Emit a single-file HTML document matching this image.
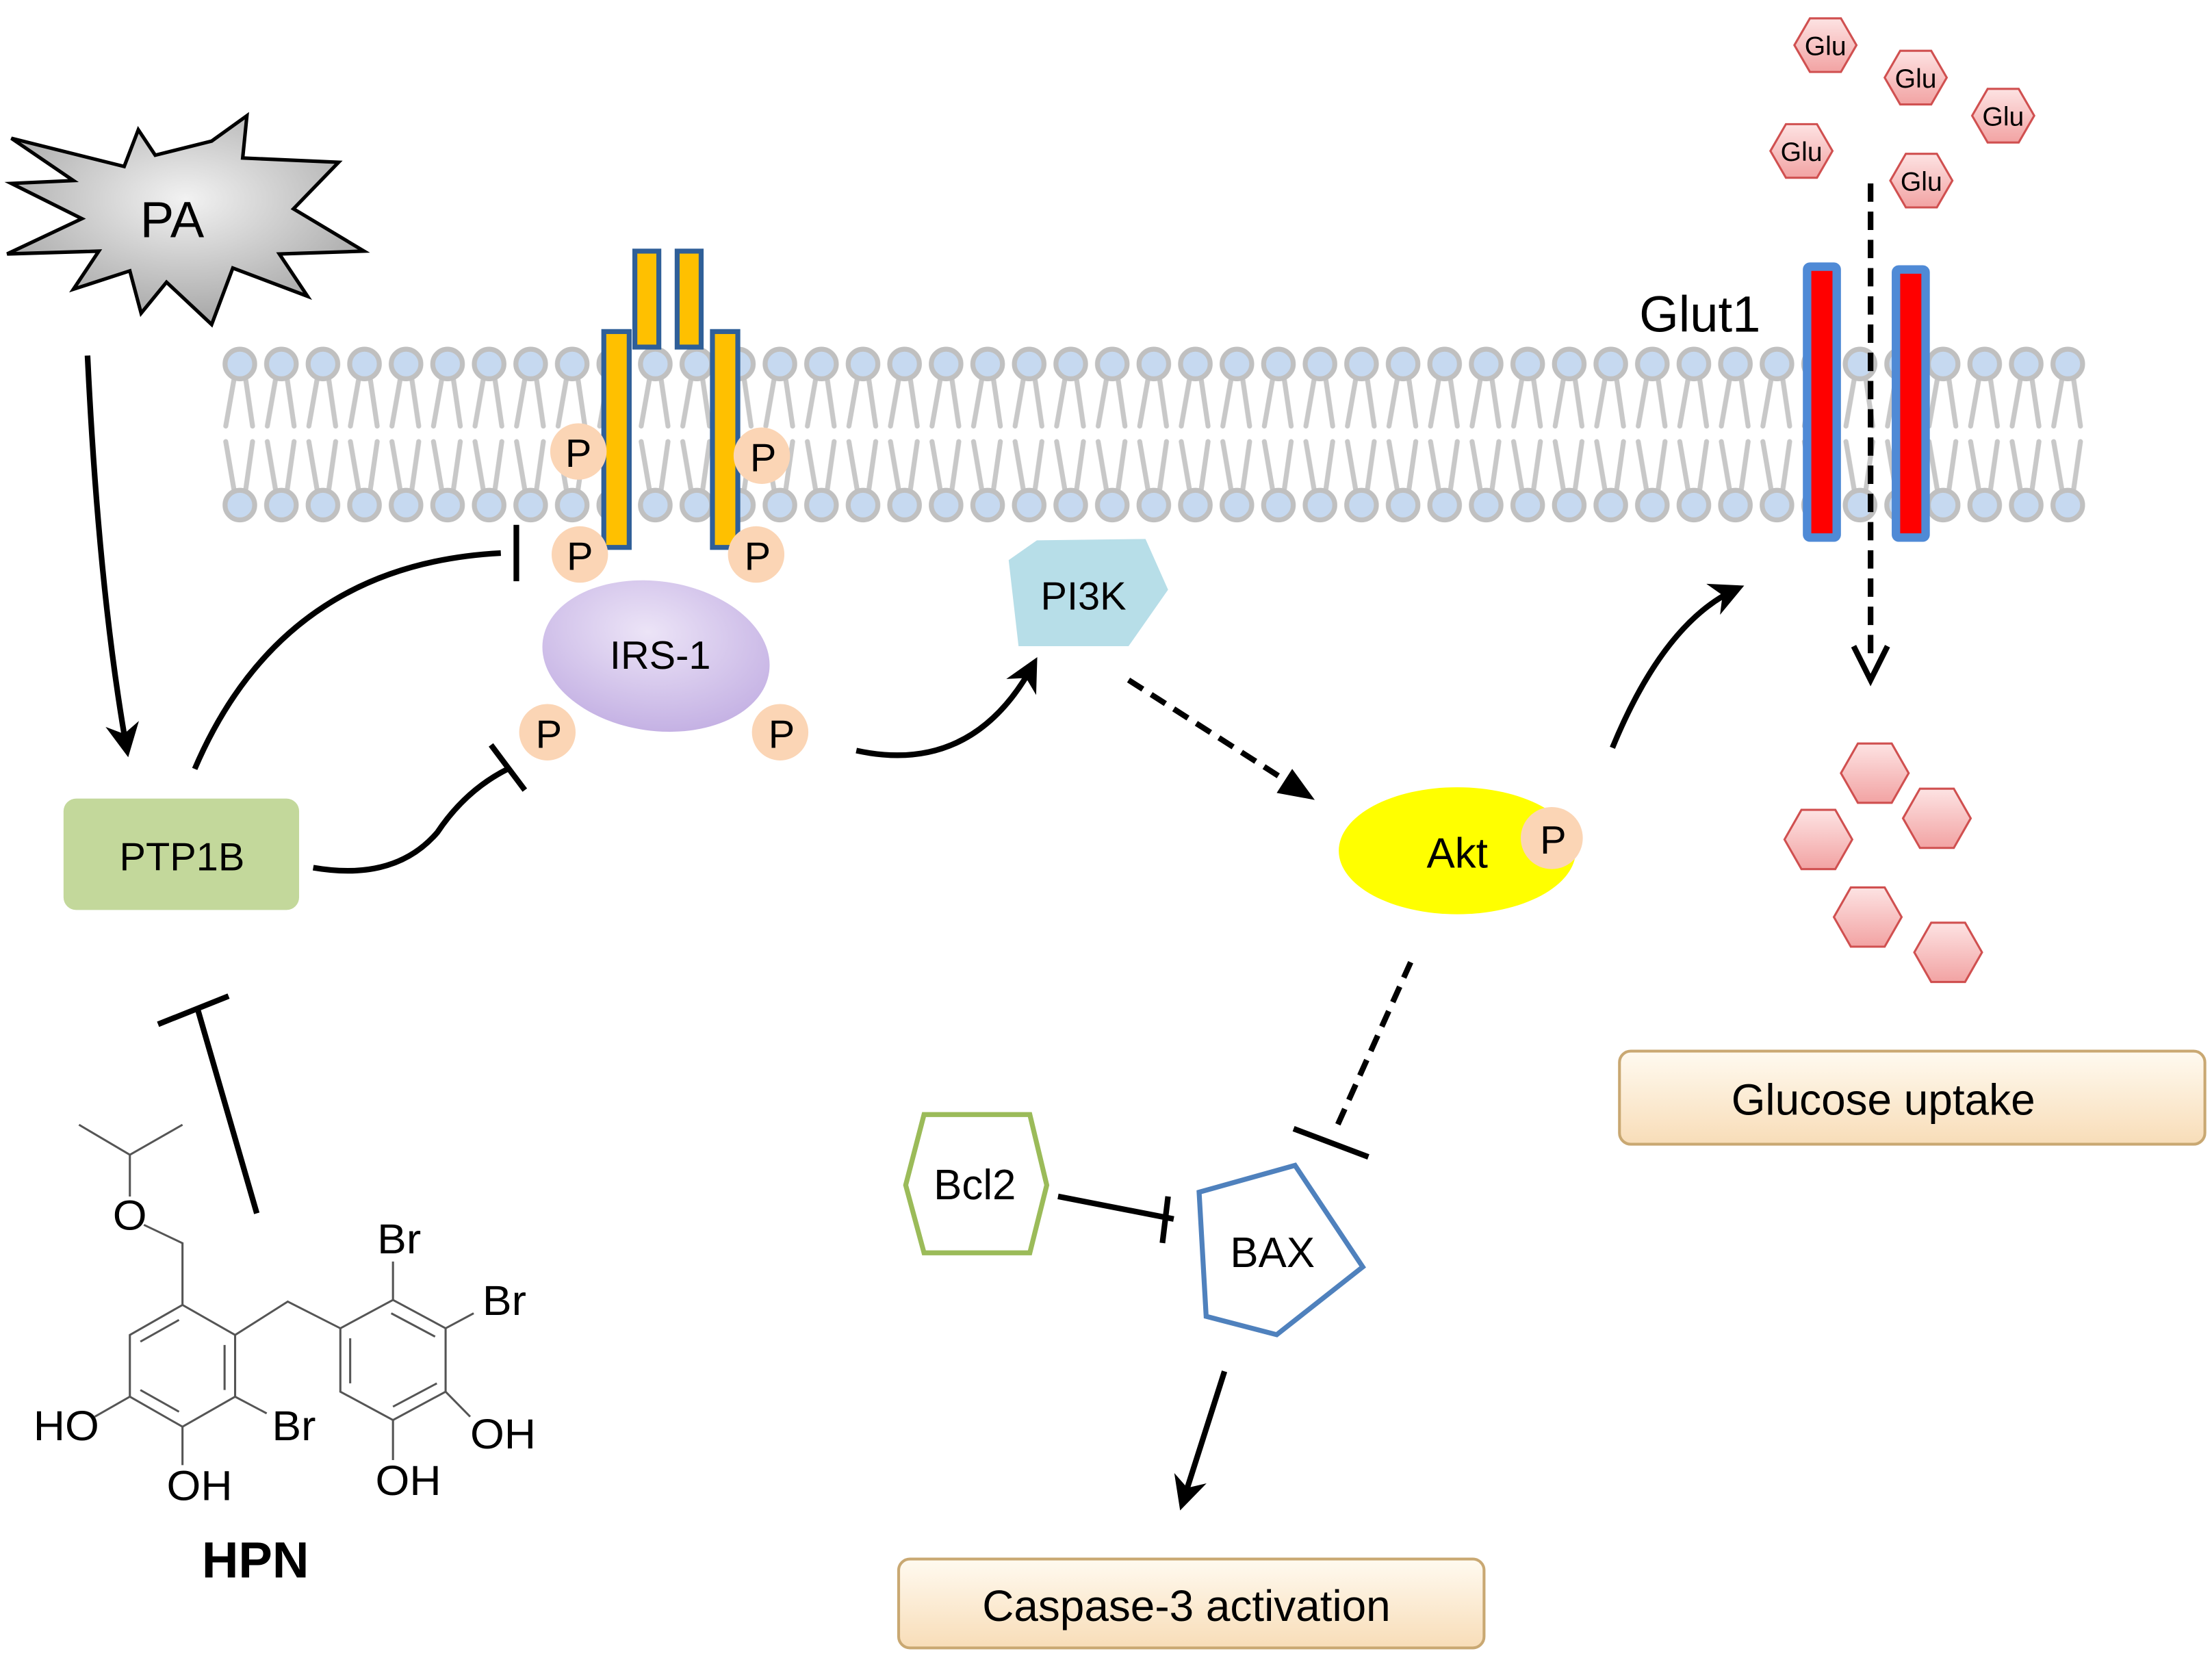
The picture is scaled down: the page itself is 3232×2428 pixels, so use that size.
<!DOCTYPE html>
<html><head><meta charset="utf-8"><style>
html,body{margin:0;padding:0;background:#fff}
svg{display:block}
text{font-family:"Liberation Sans","DejaVu Sans",sans-serif}
</style></head><body>
<svg width="3232" height="2428" viewBox="0 0 1568 1178" xmlns="http://www.w3.org/2000/svg">
<defs>
<radialGradient id="pa" cx="50%" cy="40%" r="60%"><stop offset="0" stop-color="#f2f2f2"/><stop offset="1" stop-color="#a6a6a6"/></radialGradient>
<radialGradient id="irs" cx="45%" cy="35%" r="65%"><stop offset="0" stop-color="#ece4f7"/><stop offset="1" stop-color="#c5b2e4"/></radialGradient>
<linearGradient id="glu" x1="0" y1="0" x2="0" y2="1"><stop offset="0" stop-color="#fde3e3"/><stop offset="1" stop-color="#f2a3a3"/></linearGradient>
<linearGradient id="box" x1="0" y1="0" x2="0" y2="1"><stop offset="0" stop-color="#fffaf0"/><stop offset="1" stop-color="#f8ddb8"/></linearGradient>
<marker id="ah" viewBox="0 0 10 10" refX="8" refY="5" markerWidth="6" markerHeight="6" orient="auto"><path d="M0,0 L10,5 L0,10 L3,5 z" fill="#000"/></marker>
<pattern id="lip" patternUnits="userSpaceOnUse" x="155.275" y="0" width="29.45" height="1178">
<path d="M10.725,268 L4.725,302 M18.725,268 L23.725,302 M10.725,348 L4.725,313 M18.725,348 L23.725,313" stroke="#c8c8c8" stroke-width="3.5" fill="none" stroke-linecap="round"/>
<circle cx="14.725" cy="258" r="10.5" fill="#c6d9f0" stroke="#c0c0c0" stroke-width="3.5"/>
<circle cx="14.725" cy="358" r="10.5" fill="#c6d9f0" stroke="#c0c0c0" stroke-width="3.5"/>
</pattern>
</defs>

<!-- membrane -->
<rect x="155.275" y="244" width="1325.25" height="130" fill="url(#lip)"/>

<!-- PA star -->
<polygon points="8,98 88,118 98,92 110,110 150,100 175,82 172,112 240,115 208,148 258,178 198,180 218,210 165,190 150,230 118,200 100,222 92,192 52,205 70,178 5,180 58,155 8,130 52,128" fill="url(#pa)" stroke="#000" stroke-width="2.5" stroke-linejoin="miter"/>
<text x="122" y="168" font-size="36" text-anchor="middle">PA</text>

<!-- receptor -->
<g fill="#ffc000" stroke="#2f5f98" stroke-width="3.5">
<rect x="450" y="178" width="17" height="68"/>
<rect x="480" y="178" width="17" height="68"/>
<rect x="428" y="235" width="18" height="153"/>
<rect x="505" y="235" width="18" height="153"/>
</g>
<g fill="#fbd5b5"><circle cx="410" cy="320" r="20"/><circle cx="540" cy="323" r="20"/><circle cx="411" cy="393" r="20"/><circle cx="536" cy="393" r="20"/><circle cx="388" cy="519" r="20"/><circle cx="553" cy="519" r="20"/></g>
<g font-size="28" text-anchor="middle"><text x="410" y="331">P</text><text x="541" y="334">P</text><text x="411" y="404">P</text><text x="537" y="404">P</text><text x="389" y="530">P</text><text x="554" y="530">P</text></g>

<ellipse cx="465" cy="465" rx="81" ry="53" transform="rotate(8 465 465)" fill="url(#irs)"/>
<text x="468" y="474" font-size="28" text-anchor="middle">IRS-1</text>

<!-- Glut1 -->
<g fill="#ff0000" stroke="#4f8ad6" stroke-width="6"><rect x="1281" y="189" width="21" height="192" rx="2"/><rect x="1344" y="191" width="21" height="190" rx="2"/></g>
<text x="1162" y="235" font-size="36">Glut1</text>
<line x1="1326" y1="130" x2="1326" y2="470" stroke="#000" stroke-width="4" stroke-dasharray="13,7"/>
<path d="M1314,458 L1326,482 L1338,458" fill="none" stroke="#000" stroke-width="4"/>

<!-- Glu small -->
<g fill="url(#glu)" stroke="#d05050" stroke-width="1.5">
<polygon points="1272,32 1283,13 1305,13 1316,32 1305,51 1283,51"/>
<polygon points="1336,55 1347,36 1369,36 1380,55 1369,74 1347,74"/>
<polygon points="1398,82 1409,63 1431,63 1442,82 1431,101 1409,101"/>
<polygon points="1255,107 1266,88 1288,88 1299,107 1288,126 1266,126"/>
<polygon points="1340,128 1351,109 1373,109 1384,128 1373,147 1351,147"/>
</g>
<g font-size="19" text-anchor="middle"><text x="1294" y="39">Glu</text><text x="1358" y="62">Glu</text><text x="1420" y="89">Glu</text><text x="1277" y="114">Glu</text><text x="1362" y="135">Glu</text></g>
<!-- Glu large -->
<g fill="url(#glu)" stroke="#d05050" stroke-width="1.5">
<polygon points="1305,548 1317,527 1341,527 1353,548 1341,569 1317,569"/>
<polygon points="1265,595 1277,574 1301,574 1313,595 1301,616 1277,616"/>
<polygon points="1349,580 1361,559 1385,559 1397,580 1385,601 1361,601"/>
<polygon points="1300,650 1312,629 1336,629 1348,650 1336,671 1312,671"/>
<polygon points="1357,675 1369,654 1393,654 1405,675 1393,696 1369,696"/>
</g>

<!-- boxes -->
<rect x="1148" y="745" width="415" height="66" rx="8" fill="url(#box)" stroke="#c9a872" stroke-width="2"/>
<text x="1335" y="790" font-size="31" text-anchor="middle">Glucose uptake</text>
<rect x="637" y="1105" width="415" height="63" rx="8" fill="url(#box)" stroke="#c9a872" stroke-width="2"/>
<text x="841" y="1149" font-size="31" text-anchor="middle">Caspase-3 activation</text>

<!-- PTP1B -->
<rect x="45" y="566" width="167" height="79" rx="9" fill="#c3d89b"/>
<text x="129" y="617" font-size="28" text-anchor="middle">PTP1B</text>

<!-- PI3K -->
<polygon points="715,397 735,383 812,382 828,418 800,458 722,458" fill="#b7dee8"/>
<text x="768" y="432" font-size="28" text-anchor="middle">PI3K</text>

<!-- Akt -->
<ellipse cx="1033" cy="603" rx="84" ry="45" fill="#ffff00"/>
<circle cx="1100" cy="594" r="22" fill="#fbd5b5"/>
<text x="1101" y="605" font-size="28" text-anchor="middle">P</text>
<text x="1033" y="615" font-size="30" text-anchor="middle">Akt</text>

<!-- Bcl2 -->
<polygon points="642,840 655,790 730,790 742,840 730,888 655,888" fill="#fff" stroke="#9bbb59" stroke-width="3.5"/>
<text x="691" y="850" font-size="30" text-anchor="middle">Bcl2</text>
<!-- BAX -->
<polygon points="850,845 918,826 966,898 905,946 855,933" fill="#fff" stroke="#4f81bd" stroke-width="3.5"/>
<text x="902" y="898" font-size="30" text-anchor="middle">BAX</text>

<!-- connectors -->
<g fill="none" stroke="#000" stroke-width="4">
<path d="M62,252 Q70,420 90,532" marker-end="url(#ah)"/>
<path d="M138,545 Q200,400 355,392"/>
<line x1="366" y1="372" x2="366" y2="412"/>
<path d="M222,615 Q280,625 310,590 Q330,560 360,545"/>
<line x1="348" y1="528" x2="372" y2="560"/>
<line x1="182" y1="860" x2="140" y2="715"/>
<line x1="112" y1="726" x2="162" y2="706"/>
<path d="M607,532 Q690,550 733,470" marker-end="url(#ah)"/>
<path d="M1143,530 Q1180,440 1232,417" marker-end="url(#ah)"/>
<path d="M868,972 L838,1066" marker-end="url(#ah)"/>
<line x1="750" y1="848" x2="832" y2="864"/>
<line x1="828" y1="848" x2="824" y2="881"/>
<line x1="1000" y1="682" x2="947" y2="800" stroke-dasharray="12,7"/>
<line x1="917" y1="800" x2="970" y2="820"/>
<line x1="800" y1="482" x2="922" y2="560" stroke-dasharray="12,7"/>
</g>
<path d="M905,562 L932,567 L916,545 Z" fill="#000"/>

<!-- HPN structure -->
<g transform="translate(0,757) scale(0.2487,0.2365)">
<g fill="none" stroke="#555" stroke-width="6">
<path d="M225,170 L370,260 L520,170 M370,260 L370,385 M410,470 L520,525 L520,710"/>
<path d="M520,710 L670,800 L670,985 L520,1075 L370,985 L370,800 Z"/>
<path d="M400,820 L510,755 M640,830 L640,965 M400,965 L510,1030"/>
<path d="M370,985 L270,1045 M520,1075 L520,1190 M670,985 L760,1035"/>
<path d="M670,800 L820,700 L970,780"/>
<path d="M970,780 L1120,695 L1270,780 L1270,970 L1120,1055 L970,970 Z"/>
<path d="M998,810 L998,945 M1115,735 L1240,805 M1120,1015 L1245,945"/>
<path d="M1120,695 L1120,580 M1270,780 L1350,735 M1270,970 L1340,1045 M1120,1055 L1120,1175"/>
</g>
<g font-size="125" fill="#000">
<text x="370" y="485" text-anchor="middle">O</text>
<text x="95" y="1115">HO</text>
<text x="475" y="1295">OH</text>
<text x="775" y="1115">Br</text>
<text x="1075" y="555">Br</text>
<text x="1375" y="740">Br</text>
<text x="1340" y="1140">OH</text>
<text x="1070" y="1280">OH</text>
</g>
</g>
<text x="181" y="1118" font-size="36" font-weight="bold" text-anchor="middle">HPN</text>
</svg>
</body></html>
